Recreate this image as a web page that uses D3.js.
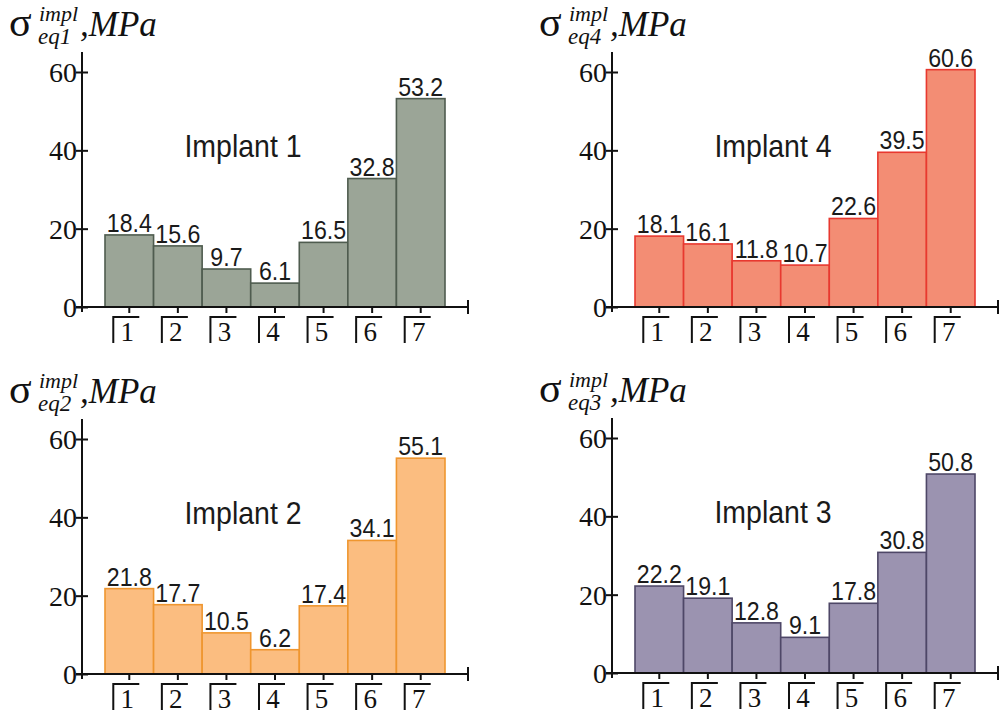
<!DOCTYPE html>
<html>
<head>
<meta charset="utf-8">
<script src="https://cdn.jsdelivr.net/npm/d3@7"></script>
<style>
  body { margin: 0; background: #fff; }
  svg { display: block; }
</style>
</head>
<body>
<div id="chart"></div>
<script>
const categories = ["1", "2", "3", "4", "5", "6", "7"];
const implant1 = [18.4, 15.6, 9.7, 6.1, 16.5, 32.8, 53.2];
const implant4 = [18.1, 16.1, 11.8, 10.7, 22.6, 39.5, 60.6];
const implant2 = [21.8, 17.7, 10.5, 6.2, 17.4, 34.1, 55.1];
const implant3 = [22.2, 19.1, 12.8, 9.1, 17.8, 30.8, 50.8];
const yTicks = [0, 20, 40, 60];
const titles = ["Implant 1", "Implant 4", "Implant 2", "Implant 3"];
const subs = ["eq1", "eq4", "eq2", "eq3"];

const w = 1002, h = 715;
const svg = d3.select("#chart").append("svg").attr("width", w).attr("height", h);
const serif = "'Liberation Serif', 'Times New Roman', serif";
const sans = "'Liberation Sans', Arial, sans-serif";

// panel layout: offset of each small chart
const panels = [
  {vals: implant1, dx: 0,   dy: 0,   fill: "#9ba597", stroke: "#4f5c4f"},
  {vals: implant4, dx: 530, dy: 0,   fill: "#f38d74", stroke: "#e8382f"},
  {vals: implant2, dx: 0,   dy: 367, fill: "#fbbd80", stroke: "#ef962f"},
  {vals: implant3, dx: 530, dy: 366, fill: "#9b93b0", stroke: "#4e4767"}
];

const x = d3.scaleBand().domain(categories).range([105, 445]).padding(0);
const y = d3.scaleLinear().domain([0, 60]).range([307, 72]);

panels.forEach((p, k) => {
  const g = svg.append("g").attr("transform", `translate(${p.dx},${p.dy})`);

  // bars
  g.selectAll("rect.bar")
    .data(p.vals)
    .enter()
    .append("rect")
    .attr("class", "bar")
    .attr("x", (d, i) => x(categories[i]))
    .attr("y", d => y(d))
    .attr("width", x.bandwidth())
    .attr("height", d => y(0) - y(d))
    .attr("fill", p.fill)
    .attr("stroke", p.stroke)
    .attr("stroke-width", 1.6);

  // value labels
  g.selectAll("text.val")
    .data(p.vals)
    .enter()
    .append("text")
    .attr("class", "val")
    .attr("transform", (d, i) => `translate(${x(categories[i]) + x.bandwidth() / 2},${y(d) - 3}) scale(0.89,1)`)
    .attr("text-anchor", "middle")
    .style("font-family", sans)
    .style("font-size", "26px")
    .attr("fill", "#1a1a1a")
    .text(d => d.toFixed(1));

  // y axis
  const yAxis = d3.axisLeft(y).tickValues(yTicks).tickSize(6).tickPadding(3);
  const ya = g.append("g").attr("transform", "translate(82,0)").call(yAxis);
  ya.select(".domain").remove();
  ya.selectAll(".tick line").attr("x1", 6).attr("x2", -6).attr("stroke", "#111").attr("stroke-width", 2);
  ya.selectAll(".tick text")
    .style("font-family", serif)
    .style("font-size", "28px")
    .attr("fill", "#111")
    .attr("x", -5)
    .attr("dy", "0.34em");
  g.append("line").attr("x1", 82).attr("x2", 82).attr("y1", 52).attr("y2", 312)
    .attr("stroke", "#111").attr("stroke-width", 2);

  // x axis
  const xAxis = d3.axisBottom(x).tickSize(6).tickFormat("");
  const xa = g.append("g").attr("transform", `translate(0,${y(0)})`).call(xAxis);
  xa.select(".domain").remove();
  xa.selectAll(".tick line").attr("stroke", "#111").attr("stroke-width", 2);
  g.append("line").attr("x1", 76).attr("x2", 468).attr("y1", y(0)).attr("y2", y(0))
    .attr("stroke", "#111").attr("stroke-width", 2);
  g.append("line").attr("x1", 468).attr("x2", 468).attr("y1", y(0) - 7).attr("y2", y(0) + 7)
    .attr("stroke", "#111").attr("stroke-width", 2);

  // bracket-style category labels
  const lab = g.selectAll("g.xlab")
    .data(categories)
    .enter()
    .append("g")
    .attr("class", "xlab")
    .attr("transform", d => `translate(${x(d) + x.bandwidth() / 2},${y(0)})`);
  lab.append("path")
    .attr("d", "M-16,36 V10 H10")
    .attr("fill", "none")
    .attr("stroke", "#111")
    .attr("stroke-width", 2);
  lab.append("text")
    .attr("x", -2)
    .attr("y", 34)
    .attr("text-anchor", "middle")
    .style("font-family", serif)
    .style("font-size", "27px")
    .attr("fill", "#111")
    .text(d => d);

  // title
  g.append("text")
    .attr("transform", "translate(243,157) scale(0.89,1)")
    .attr("text-anchor", "middle")
    .style("font-family", sans)
    .style("font-size", "32px")
    .attr("fill", "#1a1a1a")
    .text(titles[k]);

  // axis label
  g.append("text").attr("x", 9).attr("y", 36)
    .style("font-family", serif).style("font-size", "42px").attr("fill", "#111").text("σ");
  g.append("text").attr("x", 39).attr("y", 21)
    .style("font-family", serif).style("font-size", "22px").style("font-style", "italic")
    .attr("fill", "#111").text("impl");
  g.append("text").attr("x", 38).attr("y", 44)
    .style("font-family", serif).style("font-size", "23px").style("font-style", "italic")
    .attr("fill", "#111").text(subs[k]);
  g.append("text").attr("x", 80).attr("y", 36)
    .style("font-family", serif).style("font-size", "35px").style("font-style", "italic")
    .attr("fill", "#111").text(",MPa");
});
</script>
</body>
</html>
